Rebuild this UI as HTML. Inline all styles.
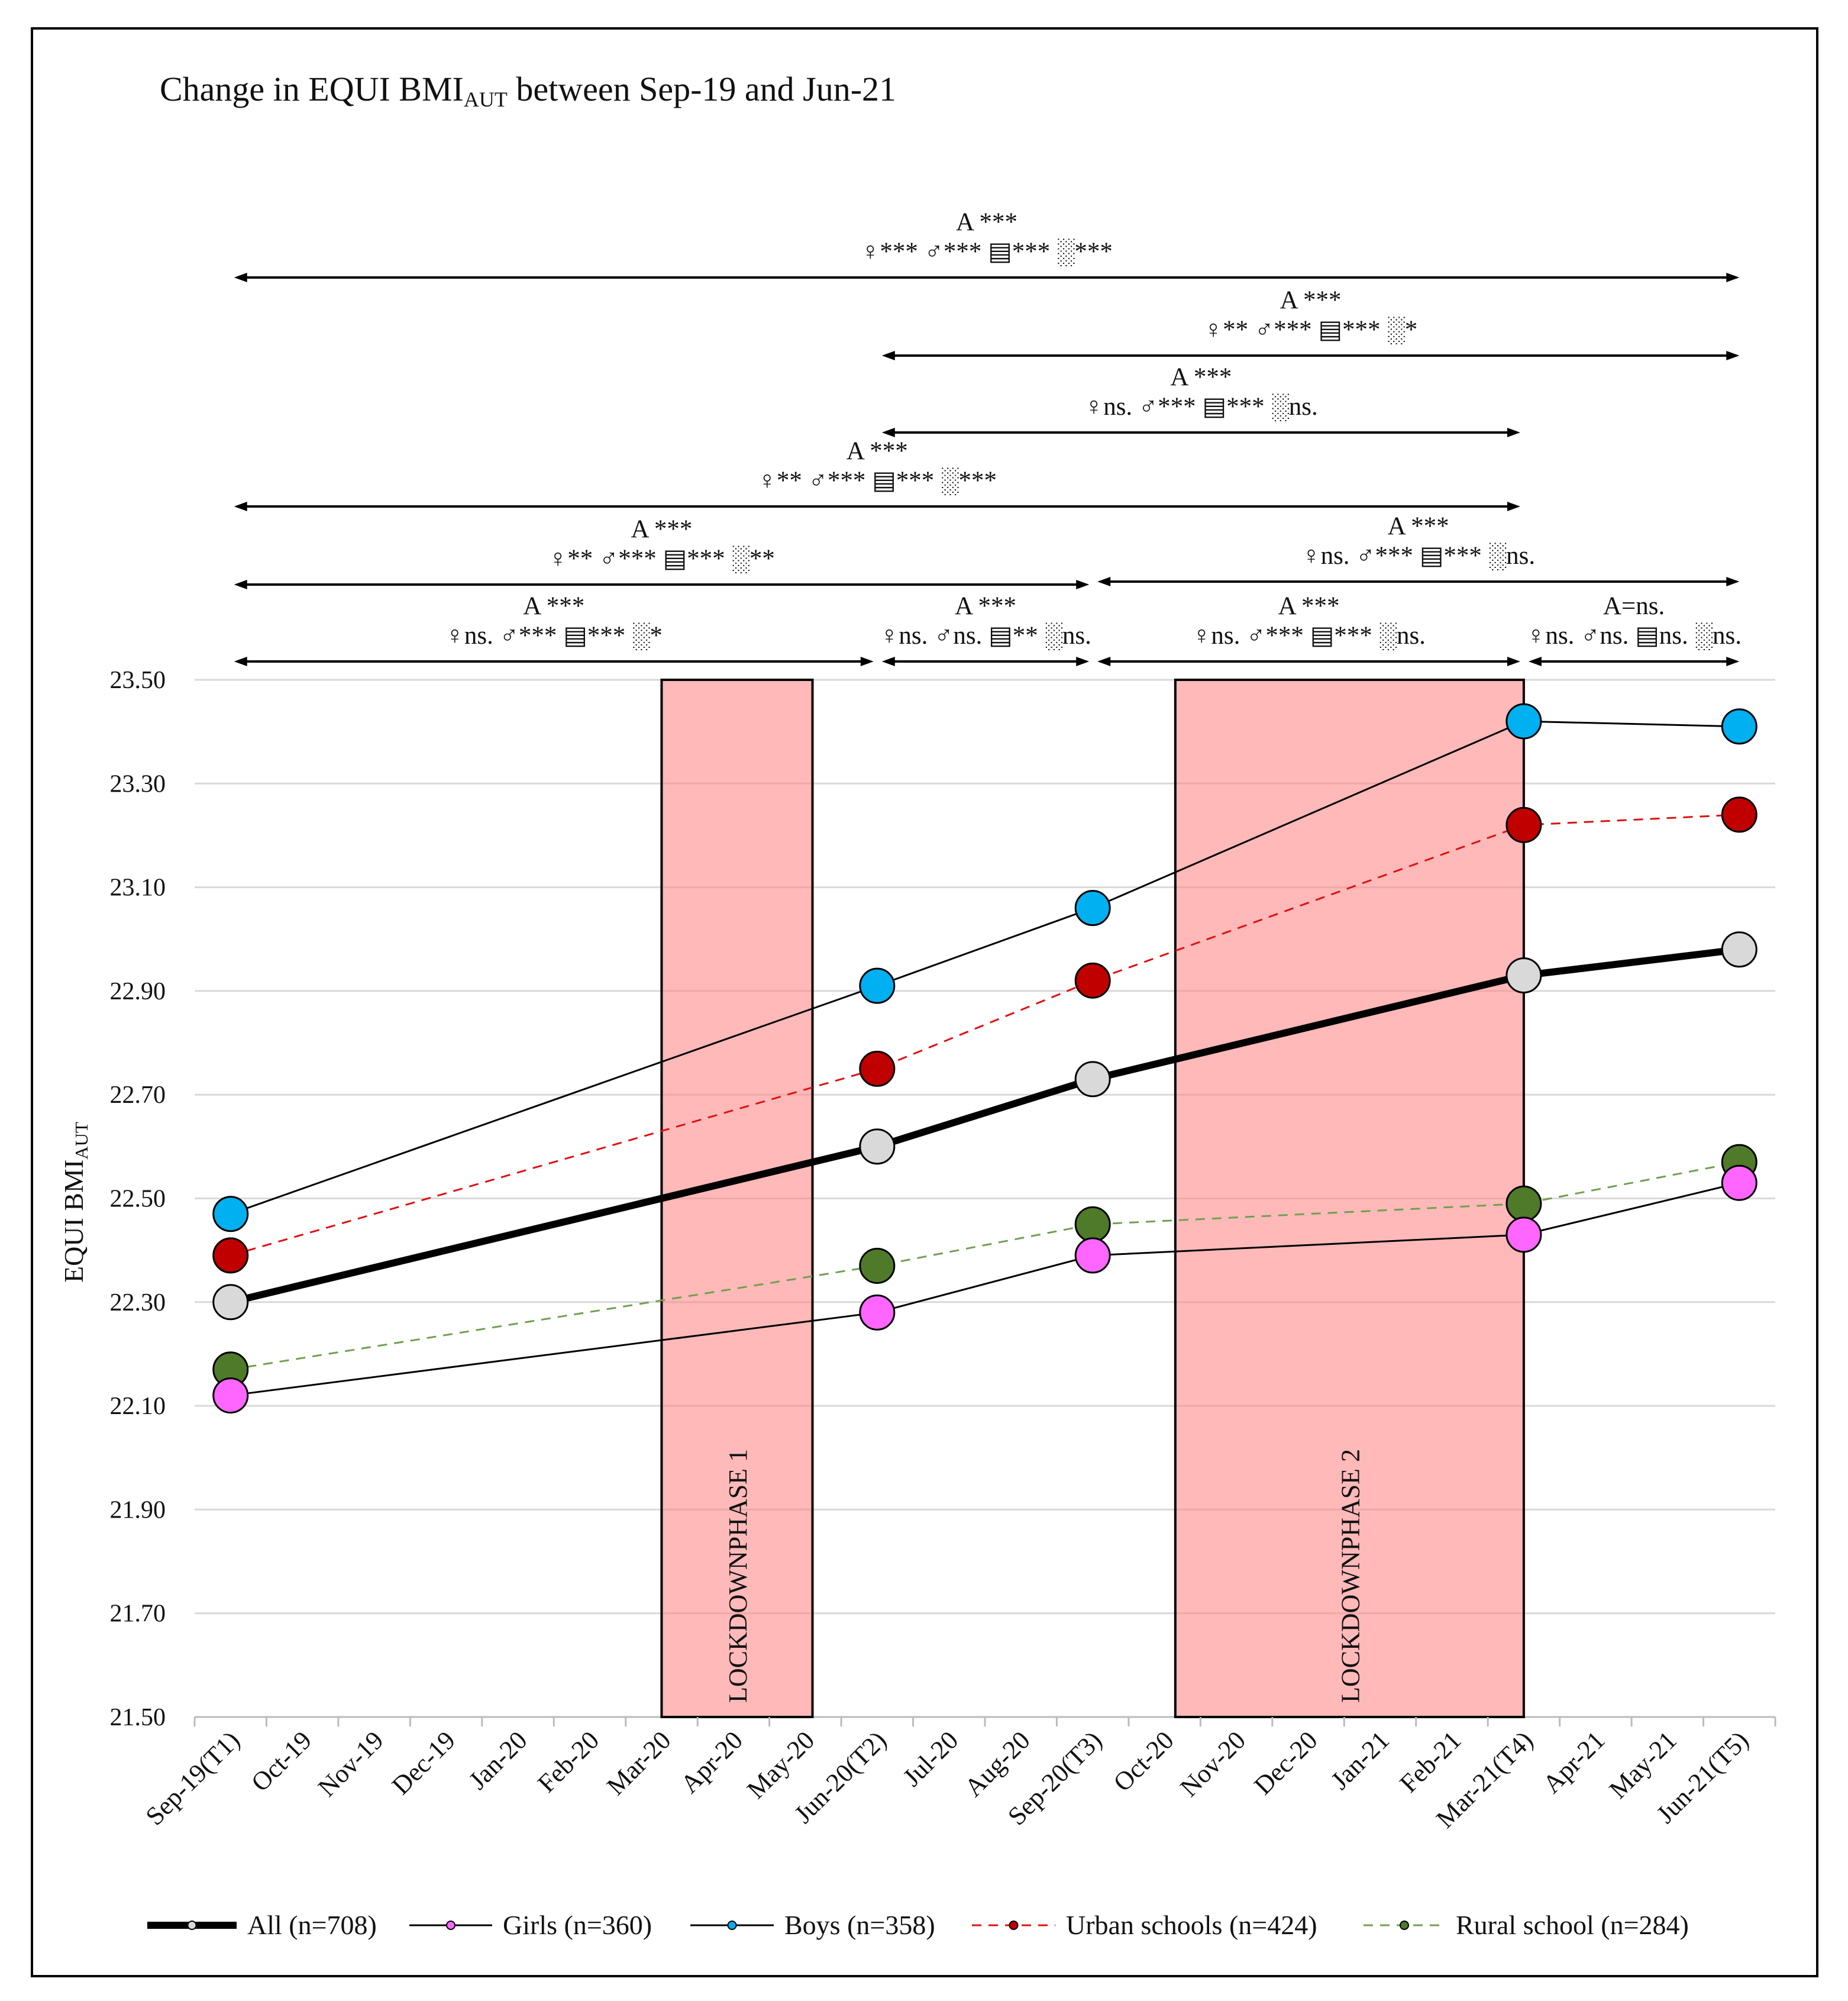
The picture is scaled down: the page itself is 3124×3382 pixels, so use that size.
<!DOCTYPE html>
<html><head><meta charset="utf-8"><style>
html,body{margin:0;padding:0;background:#fff}
svg{display:block}
text{font-family:"Liberation Serif","DejaVu Serif",serif;fill:#111}
</style></head><body>
<svg id="chart" xmlns="http://www.w3.org/2000/svg" width="3124" height="3382" viewBox="0 0 3124 3382">
<rect x="54" y="48" width="3018" height="3292" fill="#fff" stroke="#000" stroke-width="4"/>
<text x="270" y="170" font-size="58">Change in EQUI BMI<tspan font-size="36" dy="10">AUT</tspan><tspan dy="-10"> between Sep-19 and Jun-21</tspan></text>
<g id="grid"></g>
<g id="shades"></g>
<g id="series"></g>
<g id="axes"></g>
<g id="annot"></g>
<g id="legend"></g>
<text transform="translate(140,2032) rotate(-90)" text-anchor="middle" font-size="46">EQUI BMI<tspan font-size="31" dy="8">AUT</tspan></text>
</svg>
<script>
const months=["Sep-19(T1)","Oct-19","Nov-19","Dec-19","Jan-20","Feb-20","Mar-20","Apr-20","May-20","Jun-20(T2)","Jul-20","Aug-20","Sep-20(T3)","Oct-20","Nov-20","Dec-20","Jan-21","Feb-21","Mar-21(T4)","Apr-21","May-21","Jun-21(T5)"];
const pointIdx=[0,9,12,18,21];
const yTicks=[21.5,21.7,21.9,22.1,22.3,22.5,22.7,22.9,23.1,23.3,23.5];
const allVals=[22.30,22.60,22.73,22.93,22.98];
const girlsVals=[22.12,22.28,22.39,22.43,22.53];
const boysVals=[22.47,22.91,23.06,23.42,23.41];
const urbanVals=[22.39,22.75,22.92,23.22,23.24];
const ruralVals=[22.17,22.37,22.45,22.49,22.57];
const lockdownStart=[6.5,13.65];
const lockdownEnd=[8.6,18.5];
const lockdownNames=["LOCKDOWNPHASE 1","LOCKDOWNPHASE 2"];

const NS="http://www.w3.org/2000/svg";
const X0=329,X1=3001,Y0=1149,YMIN=21.5,YMAX=23.5,YB=2902;
const bw=(X1-X0)/months.length;
function xs(i){return X0+bw*(i+0.5);}
function xe(i){return X0+bw*i;}
function ys(v){return YB-(v-YMIN)/(YMAX-YMIN)*(YB-Y0);}
function mk(tag,attrs,parent){const e=document.createElementNS(NS,tag);for(const k in attrs)e.setAttribute(k,attrs[k]);parent.appendChild(e);return e;}
const grid=document.getElementById('grid'),axes=document.getElementById('axes'),shades=document.getElementById('shades'),series=document.getElementById('series'),annot=document.getElementById('annot'),legend=document.getElementById('legend');

yTicks.forEach(t=>{
  const l=mk('line',{x1:X0,x2:X1,y1:ys(t),y2:ys(t),stroke:t===YMIN?'#bbb':'#d9d9d9','stroke-width':3},grid);
  
  
  const tx=mk('text',{x:280,y:ys(t)+14,'text-anchor':'end','font-size':42},axes);
  tx.textContent=t.toFixed(2);
  
  
});
for(let i=0;i<=months.length;i++){
  const l=mk('line',{x1:xe(i),x2:xe(i),y1:YB,y2:YB+16,stroke:'#bbb','stroke-width':3},axes);
  
  
}
months.forEach((m,i)=>{
  const x=xs(i)+18,y=YB+42;
  const t=mk('text',{x:x,y:y,'text-anchor':'end','font-size':44,transform:`rotate(-45 ${x} ${y})`},axes);
  t.textContent=m;
  
  
});
lockdownStart.forEach((s,k)=>{
  const x1=X0+bw*s,x2=X0+bw*lockdownEnd[k];
  const r=mk('rect',{x:x1,y:Y0,width:x2-x1,height:YB-Y0,fill:'#ff8080','fill-opacity':0.55,stroke:'#000','stroke-width':4},shades);
  
  
  const cx=(x1+x2)/2+16,cy=YB-24;
  const t=mk('text',{x:cx,y:cy,'font-size':44,transform:`rotate(-90 ${cx} ${cy})`},shades);
  t.textContent=lockdownNames[k];
  
  
});
const defs=[
 {vals:urbanVals,name:'urban',line:'#e01010',w:3,dash:'16,12',fill:'#c00000'},
 {vals:ruralVals,name:'rural',line:'#70a050',w:3,dash:'16,12',fill:'#4f7a2a'},
 {vals:boysVals,name:'boys',line:'#000',w:3,dash:'',fill:'#00b0f0'},
 {vals:girlsVals,name:'girls',line:'#000',w:3,dash:'',fill:'#ff66ff'},
 {vals:allVals,name:'all',line:'#000',w:12,dash:'',fill:'#d9d9d9'}
];
defs.forEach(d=>{
  const pts=d.vals.map((v,j)=>xs(pointIdx[j])+','+ys(v)).join(' ');
  const p=mk('polyline',{points:pts,fill:'none',stroke:d.line,'stroke-width':d.w,'stroke-dasharray':d.dash},series);
  
  
});
defs.forEach(d=>{
  d.vals.forEach((v,j)=>{
    const c=mk('circle',{cx:xs(pointIdx[j]),cy:ys(v),r:29,fill:d.fill,stroke:'#000','stroke-width':3},series);
    
    
  });
});
const ann=[
 [0,21,469,"A ***","♀*** ♂*** ▤*** ░***"],
 [9,21,601,"A ***","♀** ♂*** ▤*** ░*"],
 [9,18,731,"A ***","♀ns. ♂*** ▤*** ░ns."],
 [0,18,856,"A ***","♀** ♂*** ▤*** ░***"],
 [0,12,988,"A ***","♀** ♂*** ▤*** ░**"],
 [12,21,983,"A ***","♀ns. ♂*** ▤*** ░ns."],
 [0,9,1118,"A ***","♀ns. ♂*** ▤*** ░*"],
 [9,12,1118,"A ***","♀ns. ♂ns. ▤** ░ns."],
 [12,18,1118,"A ***","♀ns. ♂*** ▤*** ░ns."],
 [18,21,1118,"A=ns.","♀ns. ♂ns. ▤ns. ░ns."]
];
ann.forEach(a=>{
  const x1=xs(a[0])+(a[0]?8:6),x2=xs(a[1])-(a[1]===21?0:6),y=a[2];
  const l=mk('line',{x1:x1+18,x2:x2-18,y1:y,y2:y,stroke:'#000','stroke-width':4},annot);
  
  
  mk('polygon',{points:`${x1},${y} ${x1+22},${y-8} ${x1+22},${y+8}`,fill:'#000'},annot);
  mk('polygon',{points:`${x2},${y} ${x2-22},${y-8} ${x2-22},${y+8}`,fill:'#000'},annot);
  const cx=(x1+x2)/2;
  const t1=mk('text',{x:cx,y:y-80,'text-anchor':'middle','font-size':43},annot);
  t1.textContent=a[3];
  
  
  const t2=mk('text',{x:cx,y:y-30,'text-anchor':'middle','font-size':43},annot);
  t2.textContent=a[4];
  
  
});
const leg=[
 ['All (n=708)',249,400,'#000',12,'','#d9d9d9'],
 ['Girls (n=360)',692,832,'#000',3,'','#ff66ff'],
 ['Boys (n=358)',1167,1308,'#000',3,'','#00b0f0'],
 ['Urban schools (n=424)',1643,1784,'#e01010',3,'16,12','#c00000'],
 ['Rural school (n=284)',2305,2443,'#70a050',3,'16,12','#4f7a2a']
];
leg.forEach(g=>{
  const y=3254;
  const l=mk('line',{x1:g[1],x2:g[2],y1:y,y2:y,stroke:g[3],'stroke-width':g[4],'stroke-dasharray':g[5]},legend);
  
  
  mk('circle',{cx:(g[1]+g[2])/2,cy:y,r:7,fill:g[6],stroke:'#000','stroke-width':2},legend);
  const t=mk('text',{x:g[2]+18,y:y+15,'font-size':46},legend);
  t.textContent=g[0];
  
  
});
</script>
</body></html>
